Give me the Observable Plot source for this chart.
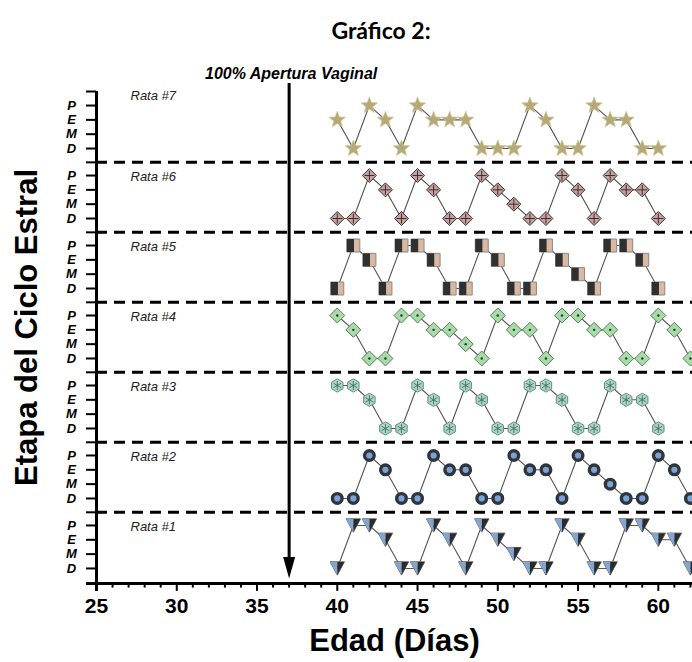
<!DOCTYPE html>
<html><head><meta charset="utf-8">
<script src="https://cdn.jsdelivr.net/npm/d3@7"></script>
<script src="https://cdn.jsdelivr.net/npm/@observablehq/plot@0.6"></script>
<style>
html,body{margin:0;padding:0;background:#fff;overflow:hidden;width:692px;height:662px}
#wrap{position:relative;width:692px;height:662px}
#title{position:absolute;top:16px;left:70px;width:622px;text-align:center;font:bold 23px Lato,"Liberation Sans",sans-serif;line-height:28px;color:#000}
#chart{position:absolute;top:50px;left:0}
</style></head><body>
<div id="wrap"><div id="title">Gráfico 2:</div><div id="chart"></div></div>
<script>
// ---- data ----
const startDay = 40;
const arrowDay = 37;
const xTicks = [25, 30, 35, 40, 45, 50, 55, 60];
const stageLabels = ["D", "M", "E", "P"];
const ratNames = ["Rata #1", "Rata #2", "Rata #3", "Rata #4", "Rata #5", "Rata #6", "Rata #7"];
const rata1 = "D P P E D D P E D P E M D D P E D D P P E E D".split(" ");
const rata2 = "D D P E D D P E E D D P E E D P E M D D P E D".split(" ");
const rata3 = "P P E D D P E D P E D D P P E D D P E E D".split(" ");
const rata4 = "P E D D P P E E M D P E E D P P E E D D P E D".split(" ");
const rata5 = "D P E D P P E D D P E D D P E M D P P E D".split(" ");
const rata6 = "D D P E D P E D D P E M D D P E D P E E D".split(" ");
const rata7 = "E D P E D P E E E D D D P E D D P E E D D".split(" ");
const arrowLabel = "100% Apertura Vaginal";
const xLabel = "Edad (Días)";
const yLabel = "Etapa del Ciclo Estral";

// ---- layout helpers ----
const STEP = 4.885;
const yMin = -1.05, yMax = 6 * STEP + 3.98;
const xMin = 25, xMax = 62.13;
const rats = [rata1, rata2, rata3, rata4, rata5, rata6, rata7];
const rows = rats.flatMap((seq, i) => seq.map((s, j) => ({rat: i + 1, day: startDay + j, y: i * STEP + stageLabels.indexOf(s)})));
const pts = r => rows.filter(d => d.rat === r);
const panelIdx = d3.range(1, 8);
const levelRows = panelIdx.flatMap(r => stageLabels.map((s, k) => ({s, y: (r - 1) * STEP + k})));
const dashY = d3.range(1, 7).map(r => (r - 1) * STEP + 3.92);
const leftTickY = [yMin, yMax, ...dashY, ...levelRows.map(d => d.y)];
const minorDays = d3.range(25, 63);
const tickLenDays = 10 / 16.05;

// ---- custom symbols ----
const custom = fn => ({draw(ctx, size) { fn(ctx, Math.sqrt(size / Math.PI)); }});
const poly = (ctx, p) => { ctx.moveTo(p[0][0], p[0][1]); for (let i = 1; i < p.length; i++) ctx.lineTo(p[i][0], p[i][1]); ctx.closePath(); };
const symStar = custom((c, r) => { const p = []; for (let k = 0; k < 10; k++) { const a = -Math.PI / 2 + k * Math.PI / 5, rr = k % 2 ? r * 0.42 : r; p.push([rr * Math.cos(a), rr * Math.sin(a)]); } poly(c, p); });
const symDiamond = custom((c, r) => poly(c, [[0, -r], [r, 0], [0, r], [-r, 0]]));
const symPlus = custom((c, r) => { c.moveTo(-r, 0); c.lineTo(r, 0); c.moveTo(0, -r); c.lineTo(0, r); });
const symSquare = custom((c, r) => poly(c, [[-r, -r], [r, -r], [r, r], [-r, r]]));
const symHalfLeft = custom((c, r) => poly(c, [[-r, -r], [0.1 * r, -r], [0.1 * r, r], [-r, r]]));
const symHex = custom((c, r) => { const p = []; for (let k = 0; k < 6; k++) { const a = Math.PI / 6 + k * Math.PI / 3; p.push([r * Math.cos(a), r * Math.sin(a)]); } poly(c, p); });
const symAst = custom((c, r) => { for (let k = 0; k < 3; k++) { const a = Math.PI / 2 + k * Math.PI / 3; c.moveTo(-r * Math.cos(a), -r * Math.sin(a)); c.lineTo(r * Math.cos(a), r * Math.sin(a)); } });
const symTriL = custom((c, r) => poly(c, [[-r, -r * 0.93], [0, -r * 0.93], [0, r * 0.93]]));
const symTriR = custom((c, r) => poly(c, [[0, -r * 0.93], [r, -r * 0.93], [0, r * 0.93]]));
const symTri = custom((c, r) => poly(c, [[-r, -r * 0.93], [r, -r * 0.93], [0, r * 0.93]]));
const symHead = custom((c, r) => poly(c, [[-r * 0.5, -r * 1.8], [r * 0.5, -r * 1.8], [0, 0]]));

const font = "'Liberation Sans', Arial, sans-serif";

const chart = Plot.plot({
  width: 692, height: 612,
  marginLeft: 96, marginRight: 0, marginTop: 41, marginBottom: 79,
  x: {domain: [xMin, xMax], axis: null},
  y: {domain: [yMin, yMax], axis: null},
  style: {fontFamily: font, background: "#fff", overflow: "visible"},
  marks: [
    // dashed separators
    Plot.ruleY(dashY, {x1: xMin, x2: xMax, stroke: "#000", strokeWidth: 3, strokeDasharray: "11,7"}),
    // left axis ticks
    Plot.ruleY(leftTickY, {x1: xMin - tickLenDays, x2: xMin, stroke: "#000", strokeWidth: 2}),
    // bottom ticks
    Plot.ruleX(minorDays, {y1: yMin, y2: d => yMin - (d % 5 === 0 ? 0.55 : 0.32), stroke: "#000", strokeWidth: 2}),
    // axis lines
    Plot.ruleX([xMin], {y1: yMin - 0.55, y2: yMax, stroke: "#000", strokeWidth: 3}),
    Plot.ruleY([yMin], {x1: xMin - tickLenDays, x2: xMax, stroke: "#000", strokeWidth: 3}),
    // stage labels
    Plot.text(levelRows, {x: xMin, y: "y", text: "s", dx: -25, fontSize: 13, fontWeight: "bold", fontStyle: "italic"}),
    // x tick labels
    Plot.text(xTicks, {x: d => d, y: yMin, text: d => String(d), dy: 23, fontSize: 21, fontWeight: "bold"}),
    // axis titles
    Plot.text([xLabel], {frameAnchor: "bottom", text: d => d, lineAnchor: "middle", textAnchor: "middle", dy: 58, fontSize: 31, fontWeight: "bold"}),
    Plot.text([yLabel], {frameAnchor: "left", text: d => d, rotate: -90, lineAnchor: "middle", textAnchor: "middle", dx: -69, dy: -10, fontSize: 31, fontWeight: "bold"}),
    // rat labels
    Plot.text(panelIdx, {x: xMin, y: r => (r - 1) * STEP + (r === 7 ? 3.7 : 2.9), text: r => ratNames[r - 1], dx: 34, textAnchor: "start", fontSize: 13, fontStyle: "italic", fill: "#222"}),
    // arrow
    Plot.ruleX([arrowDay], {y1: yMax + 0.56, y2: -0.2, stroke: "#000", strokeWidth: 3}),
    Plot.dot([arrowDay], {x: d => d, y: -0.7, symbol: symHead, r: 12, fill: "#000", stroke: "none"}),
    Plot.text([arrowLabel], {x: arrowDay, frameAnchor: "top", text: d => d, dy: -24, dx: 2, fontSize: 16, fontWeight: "bold", fontStyle: "italic", letterSpacing: "2.7px"}),
    // lines
    Plot.line(rows, {x: "day", y: "y", z: "rat", stroke: "#555", strokeWidth: 1.1}),
    // Rata 1: half blue / half dark down-triangles
    Plot.dot(pts(1), {x: "day", y: "y", symbol: symTri, r: 7.2, fill: "none", stroke: "#666", strokeWidth: 1}),
    Plot.dot(pts(1), {x: "day", y: "y", symbol: symTriL, r: 7, fill: "#7fa6d5", stroke: "none"}),
    Plot.dot(pts(1), {x: "day", y: "y", symbol: symTriR, r: 7, fill: "#2b2b2b", stroke: "none"}),
    // Rata 2: dark ring, blue centre
    Plot.dot(pts(2), {x: "day", y: "y", symbol: "circle", r: 4.8, fill: "#7ba3d4", stroke: "#30353b", strokeWidth: 3.4}),
    // Rata 3: teal hexagon with asterisk
    Plot.dot(pts(3), {x: "day", y: "y", symbol: symHex, r: 6.6, fill: "#a3d9c6", stroke: "#6b8a80", strokeWidth: 1}),
    Plot.dot(pts(3), {x: "day", y: "y", symbol: symAst, r: 4.5, fill: "none", stroke: "#4a5a55", strokeWidth: 0.8}),
    // Rata 4: green diamond with dot
    Plot.dot(pts(4), {x: "day", y: "y", symbol: symDiamond, r: 7.5, fill: "#a7dba8", stroke: "#5d7d5d", strokeWidth: 1}),
    Plot.dot(pts(4), {x: "day", y: "y", symbol: "circle", r: 1.2, fill: "#333", stroke: "none"}),
    // Rata 5: half dark / half tan squares
    Plot.dot(pts(5), {x: "day", y: "y", symbol: symSquare, r: 6.5, fill: "#d9b9a2", stroke: "#888", strokeWidth: 1}),
    Plot.dot(pts(5), {x: "day", y: "y", symbol: symHalfLeft, r: 6.5, fill: "#303030", stroke: "none"}),
    // Rata 6: pink diamond with plus
    Plot.dot(pts(6), {x: "day", y: "y", symbol: symDiamond, r: 7, fill: "#c9a09e", stroke: "#3a3030", strokeWidth: 1}),
    Plot.dot(pts(6), {x: "day", y: "y", symbol: symPlus, r: 5, fill: "none", stroke: "#333", strokeWidth: 1}),
    // Rata 7: khaki stars
    Plot.dot(pts(7), {x: "day", y: "y", symbol: symStar, r: 8.6, fill: "#b5a977", stroke: "#cfc497", strokeWidth: 0.7})
  ]
});
document.getElementById("chart").appendChild(chart);
</script>
</body></html>
